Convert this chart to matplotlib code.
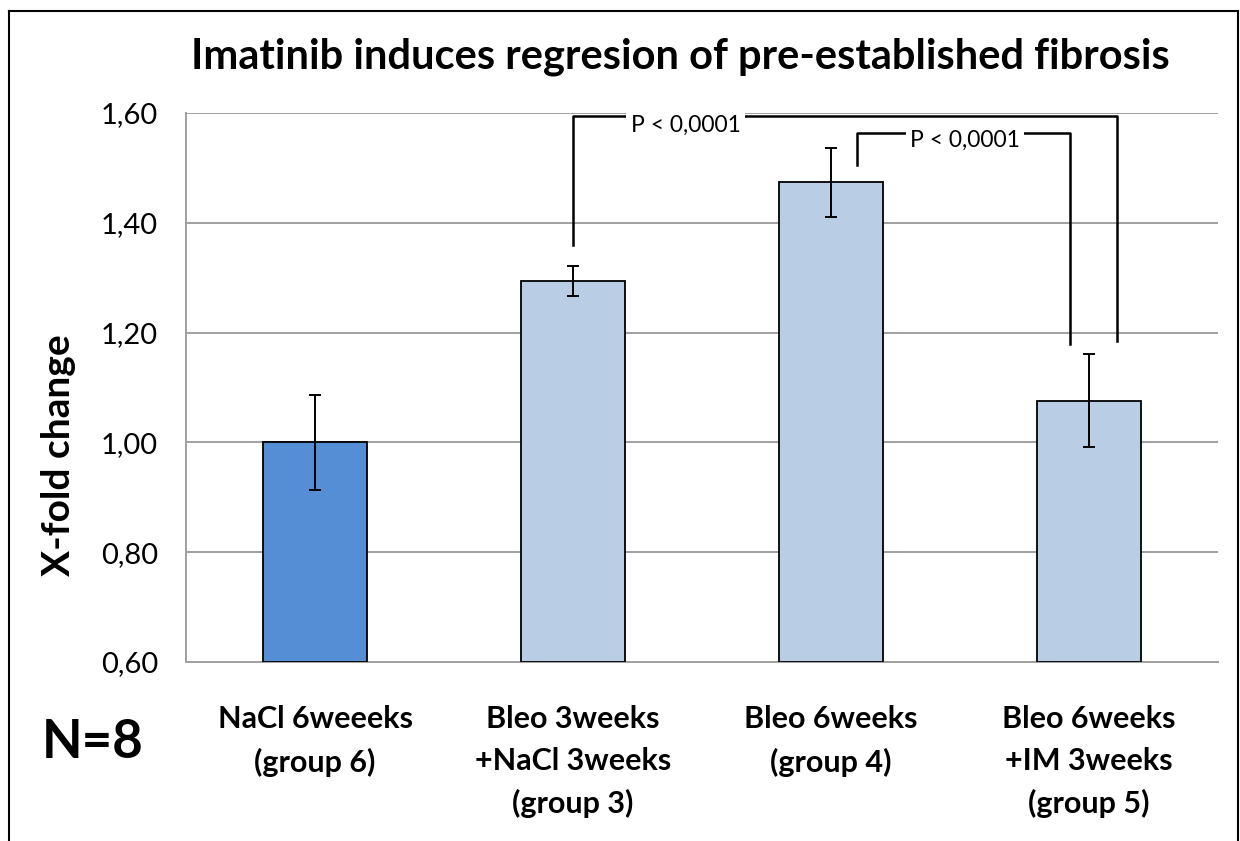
import numpy as np
import matplotlib.pyplot as plt
from matplotlib.lines import Line2D

plt.rcParams['font.family'] = ['Lato', 'DejaVu Sans']

# group data (x-fold change, mean +/- error)
groups = ['NaCl 6weeeks\n(group 6)',
          'Bleo 3weeks\n+NaCl 3weeks\n(group 3)',
          'Bleo 6weeks\n(group 4)',
          'Bleo 6weeks\n+IM 3weeks\n(group 5)']
means = [1.00, 1.294, 1.474, 1.076]
errors = [0.087, 0.028, 0.063, 0.085]
bar_colors = ['#558ED5', '#B9CDE5', '#B9CDE5', '#B9CDE5']
yticks = [0.60, 0.80, 1.00, 1.20, 1.40, 1.60]
p_labels = ['P < 0,0001', 'P < 0,0001']

W, H = 1240, 841
fig = plt.figure(figsize=(W / 100, H / 100), dpi=100)
ax = fig.add_axes([186 / W, 1 - 662 / H, 1032 / W, 549 / H])

x = np.arange(len(groups))
ax.bar(x, np.array(means) - 0.6, bottom=0.6, width=0.4, color=bar_colors,
       edgecolor='black', linewidth=1.3, zorder=3)
ax.errorbar(x, means, yerr=errors, fmt='none', ecolor='black',
            elinewidth=1.4, capsize=4, capthick=1.4, zorder=4)

ax.set_xlim(-0.5, 3.5)
ax.set_ylim(0.6, 1.6)
ax.set_yticks(yticks)
ax.set_yticklabels([f'{v:.2f}'.replace('.', ',') for v in yticks], fontsize=21)
ax.set_xticks(x)
ax.set_xticklabels(groups, fontsize=22, fontweight='bold', linespacing=1.6)
ax.tick_params(axis='y', length=0, pad=20)
ax.tick_params(axis='x', length=0, pad=31)
ax.yaxis.grid(True, color='#A0A0A0', linewidth=1.4, zorder=0)
for s in ['top', 'right']:
    ax.spines[s].set_visible(False)
for s in ['left', 'bottom']:
    ax.spines[s].set_color('#A0A0A0')
    ax.spines[s].set_linewidth(1.4)

# significance brackets
ax.plot([1.0, 1.0, 3.109, 3.109], [1.36, 1.594, 1.594, 1.185],
        color='black', linewidth=1.8, clip_on=False, zorder=5)
ax.plot([2.10, 2.10, 2.926, 2.926], [1.505, 1.564, 1.564, 1.18],
        color='black', linewidth=1.8, clip_on=False, zorder=5)
ax.text(1.436, 1.578, p_labels[0], ha='center', va='center', fontsize=16.5,
        bbox=dict(fc='white', ec='none', pad=3), zorder=6)
ax.text(2.52, 1.551, p_labels[1], ha='center', va='center', fontsize=16.5,
        bbox=dict(fc='white', ec='none', pad=3), zorder=6)

fig.text(680 / W, 1 - 57 / H, 'Imatinib induces regresion of pre-established fibrosis',
         ha='center', va='center', fontsize=30, fontweight='bold')
fig.text(58 / W, 1 - 455 / H, 'X-fold change', rotation=90, ha='center',
         va='center', fontsize=28, fontweight='bold')
fig.text(93 / W, 1 - 742 / H, 'N=8', ha='center', va='center',
         fontsize=38, fontweight='bold')

# outer frame
for xs, ys in [([9, 9], [11, H]), ([9, 1238], [11, 11]), ([1238, 1238], [11, H])]:
    fig.add_artist(Line2D([v / W for v in xs], [1 - v / H for v in ys],
                          color='black', linewidth=1.5))

fig.savefig('out.png', dpi=100)
